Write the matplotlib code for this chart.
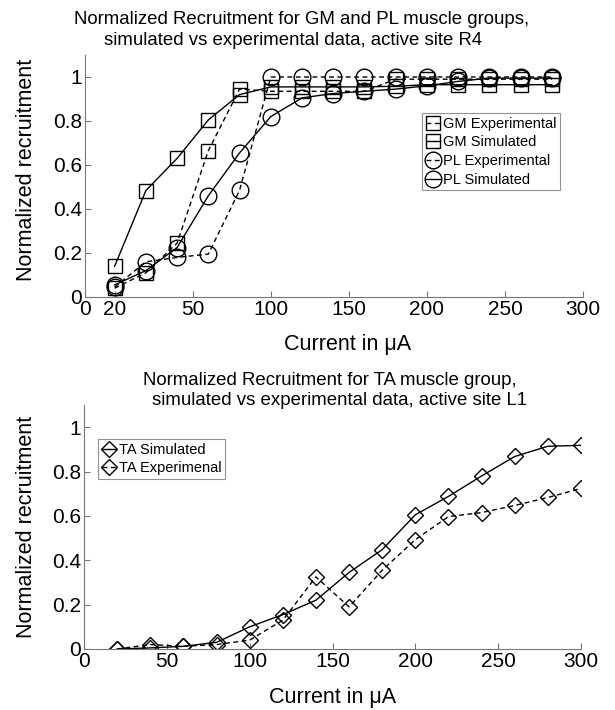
import numpy as np
import matplotlib.pyplot as plt

plt.rcParams['font.family'] = ['Liberation Sans', 'DejaVu Sans']

# top chart: GM and PL, active site R4
x_top = [0, 20, 40, 60, 80, 100, 120, 140, 160, 180, 200, 220, 240, 260, 280]
gm_exp = [0.04, 0.11, 0.245, 0.665, 0.945, 0.935, 0.935, 0.935, 0.935, 0.99, 0.99, 0.99, 0.99, 0.99, 0.99]
gm_sim = [0.14, 0.484, 0.63, 0.805, 0.92, 0.955, 0.955, 0.955, 0.955, 0.958, 0.965, 0.965, 0.965, 0.965, 0.965]
pl_exp = [0.045, 0.16, 0.18, 0.195, 0.485, 1.0, 1.0, 1.0, 1.0, 1.0, 1.0, 1.0, 1.0, 1.0, 1.0]
pl_sim = [0.055, 0.12, 0.225, 0.46, 0.655, 0.82, 0.905, 0.925, 0.935, 0.945, 0.96, 0.98, 0.995, 0.995, 0.995]
top_ticks = [-19, 0, 50, 100, 150, 200, 250, 300]
top_ticklabels = ['0', '20', '50', '100', '150', '200', '250', '300']

# bottom chart: TA, active site L1
x_bot = [20, 40, 60, 80, 100, 120, 140, 160, 180, 200, 220, 240, 260, 280, 300]
ta_sim = [0.0, 0.005, 0.012, 0.03, 0.1, 0.155, 0.22, 0.345, 0.448, 0.605, 0.688, 0.78, 0.868, 0.914, 0.918]
ta_exp = [0.0, 0.02, 0.012, 0.02, 0.04, 0.13, 0.325, 0.19, 0.355, 0.493, 0.597, 0.615, 0.647, 0.683, 0.724]

fig = plt.figure(figsize=(6.15, 7.1), dpi=100)
ax1 = fig.add_axes([85/615, 1-297/710, 498/615, 242/710])
ax2 = fig.add_axes([84/615, 1-649/710, 497/615, 244/710])

dash = (0, (3.5, 2.5))
mk = dict(color='black', markerfacecolor='none', markeredgecolor='black', lw=1.0, mew=1.0)

ax1.plot(x_top, gm_exp, marker='s', ms=10, linestyle=dash, label='GM Experimental', **mk)
ax1.plot(x_top, gm_sim, marker='s', ms=10, linestyle='-', label='GM Simulated', **mk)
ax1.plot(x_top, pl_exp, marker='o', ms=12, linestyle=dash, label='PL Experimental', **mk)
ax1.plot(x_top, pl_sim, marker='o', ms=12, linestyle='-', label='PL Simulated', **mk)

ax2.plot(x_bot, ta_sim, marker='D', ms=8, linestyle='-', label='TA Simulated', **mk)
ax2.plot(x_bot, ta_exp, marker='D', ms=8, linestyle=dash, label='TA Experimenal', **mk)

ax1.set_xlim(-19, 300)
ax1.set_xticks(top_ticks)
ax1.set_xticklabels(top_ticklabels)
ax2.set_xlim(0, 300)
ax2.set_xticks([0, 50, 100, 150, 200, 250, 300])

for ax in (ax1, ax2):
    ax.set_ylim(0, 1.1)
    ax.set_yticks([0, 0.2, 0.4, 0.6, 0.8, 1])
    ax.set_yticklabels(['0', '0.2', '0.4', '0.6', '0.8', '1'])
    ax.spines['top'].set_visible(False)
    ax.spines['right'].set_visible(False)
    for s in ('left', 'bottom'):
        ax.spines[s].set_color('#777777')
        ax.spines[s].set_linewidth(0.8)
    ax.tick_params(direction='in', length=4, width=0.8, color='#777777',
                   labelsize=15, pad=2)

ax1.set_xlabel('Current in \u03bcA', fontsize=15.5, labelpad=11, x=0.528)
ax2.set_xlabel('Current in \u03bcA', fontsize=15.5, labelpad=12)
ax1.set_ylabel('Normalized recruitment', fontsize=15.5, y=0.525)
ax2.set_ylabel('Normalized recruitment', fontsize=15.5)
ax1.yaxis.set_label_coords(-(85-27)/498, 0.525)
ax2.yaxis.set_label_coords(-(84-27)/497, 0.5)
for ax in (ax1, ax2):
    ax.yaxis.label.set_va('center')

# titles, one line at a time
fig.text(302/615, 1-24/710, 'Normalized Recruitment for GM and PL muscle groups,',
         fontsize=13.4, ha='center', va='baseline')
fig.text(293/615, 1-45/710, 'simulated vs experimental data, active site R4',
         fontsize=13.4, ha='center', va='baseline')
fig.text(330/615, 1-385/710, 'Normalized Recruitment for TA muscle group,',
         fontsize=13.4, ha='center', va='baseline')
fig.text(340/615, 1-405/710, 'simulated vs experimental data, active site L1',
         fontsize=13.4, ha='center', va='baseline')

leg_kw = dict(fontsize=10.5, frameon=True, fancybox=False, edgecolor='#777777',
              handlelength=1.0, handletextpad=0.2, borderpad=0.25,
              labelspacing=0.32, borderaxespad=0)
l1 = ax1.legend(loc='upper left', bbox_to_anchor=((422-85)/498, (297-113)/242), **leg_kw)
l2 = ax2.legend(loc='upper left', bbox_to_anchor=((98-84)/497, (649-439)/244), **leg_kw)
for leg in (l1, l2):
    leg.get_frame().set_linewidth(0.8)

fig.savefig('out.png', dpi=100)
